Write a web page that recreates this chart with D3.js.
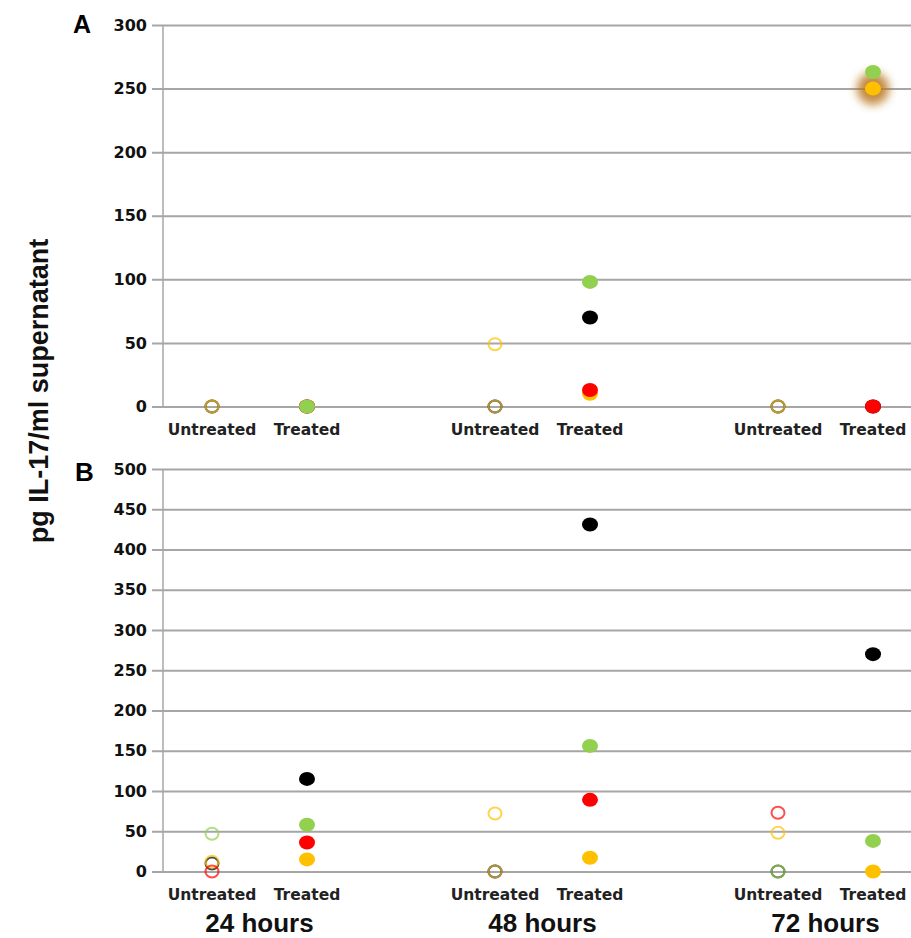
<!DOCTYPE html>
<html>
<head>
<meta charset="utf-8">
<script src="https://cdn.jsdelivr.net/npm/d3@7"></script>
<style>
  body { margin: 0; background: #fff; }
  svg { display: block; }
</style>
</head>
<body>
<div id="chart-area"></div>
<script>
//============================DATA============================
// x categories
var timeGroups = ["24 hours", "48 hours", "72 hours"];
var treatments = ["Untreated", "Treated"];

// one value per group x treatment: 24U, 24T, 48U, 48T, 72U, 72T
var subjects = ["black", "yellow", "red", "green"];   // draw order
var subjectColors = { black: "#000000", yellow: "#ffc000", red: "#ff0000", green: "#92d050" };

// panel A
var aBlack  = [0, 0, 0, 70, 0, 0];
var aYellow = [0, 0, 49, 10, 0, 250];
var aRed    = [0, 0, 0, 13, 0, 0];
var aGreen  = [0, 0, 0, 98, 0, 263];
var aTicks  = [0, 50, 100, 150, 200, 250, 300];

// panel B (null = not shown)
var bBlack  = [10, 115, 0, 431, 0, 270];
var bYellow = [12, 15, 72, 17, 48, 0];
var bRed    = [0, 36, 0, 89, 73, null];
var bGreen  = [47, 58, 0, 156, 0, 38];
var bTicks  = [0, 50, 100, 150, 200, 250, 300, 350, 400, 450, 500];

// highlighted point (glow) in panel A
var glowPoint = { panel: "A", subject: "yellow", index: 5 };

//============================LAYOUT============================
var width = 911, height = 938;
var plotLeft = 163, plotRight = 911;

var svg = d3.select("#chart-area")
    .append("svg")
    .attr("width", width)
    .attr("height", height);

var defs = svg.append("defs");
defs.append("filter")
    .attr("id", "glow")
    .attr("x", "-100%").attr("y", "-100%")
    .attr("width", "300%").attr("height", "300%")
    .append("feGaussianBlur")
    .attr("stdDeviation", 5);

// x scales: groups, then untreated/treated offset inside group
var xGroup = d3.scalePoint().domain(timeGroups).range([259.5, 825.5]);
var xTreat = d3.scalePoint().domain(treatments).range([-47.5, 47.5]);

function xPos(i) {
    return xGroup(timeGroups[Math.floor(i / 2)]) + xTreat(treatments[i % 2]);
}

var panels = [
    { key: "A", series: { black: aBlack, yellow: aYellow, red: aRed, green: aGreen },
      ticks: aTicks, top: 25, bottom: 406.5, catY: 435, letterX: 73, letterY: 33, letterSize: 25 },
    { key: "B", series: { black: bBlack, yellow: bYellow, red: bRed, green: bGreen },
      ticks: bTicks, top: 469, bottom: 871.5, catY: 900, letterX: 75, letterY: 481, letterSize: 26 }
];

panels.forEach(function(p) {
    var y = d3.scaleLinear()
        .domain([0, d3.max(p.ticks)])
        .range([p.bottom, p.top]);

    // gridlines + tick marks + labels
    var axis = svg.append("g")
        .attr("transform", "translate(152,0)")
        .call(d3.axisLeft(y)
            .tickValues(p.ticks)
            .tickSize(-(plotRight - 152))
            .tickPadding(5));
    axis.select(".domain").remove();
    axis.selectAll(".tick line")
        .attr("stroke", "#a6a6a6")
        .attr("stroke-width", 2);
    axis.selectAll(".tick text")
        .attr("font-family", "'DejaVu Sans', sans-serif")
        .attr("font-weight", "bold")
        .attr("font-size", "16px")
        .attr("fill", "#111");

    // vertical axis line
    svg.append("line")
        .attr("x1", plotLeft).attr("x2", plotLeft)
        .attr("y1", p.top).attr("y2", p.bottom)
        .attr("stroke", "#a6a6a6")
        .attr("stroke-width", 1.5);

    // panel letter
    svg.append("text")
        .attr("x", p.letterX)
        .attr("y", p.letterY)
        .attr("font-family", "'Liberation Sans', Arial, sans-serif")
        .attr("font-weight", "bold")
        .attr("font-size", p.letterSize + "px")
        .text(p.key);

    // category labels
    d3.range(6).forEach(function(i) {
        svg.append("text")
            .attr("x", xPos(i))
            .attr("y", p.catY)
            .attr("text-anchor", "middle")
            .attr("font-family", "'DejaVu Sans', sans-serif")
            .attr("font-weight", "bold")
            .attr("font-size", "15.5px")
            .attr("fill", "#222")
            .text(treatments[i % 2]);
    });

    // glow behind highlighted point
    if (glowPoint.panel === p.key) {
        var gv = p.series[glowPoint.subject][glowPoint.index];
        svg.append("circle")
            .attr("cx", xPos(glowPoint.index))
            .attr("cy", y(gv))
            .attr("r", 16)
            .attr("fill", "#b8741f")
            .attr("opacity", 0.85)
            .attr("filter", "url(#glow)");
    }

    // untreated points: open circles
    subjects.forEach(function(s) {
        var pts = p.series[s]
            .map(function(v, i) { return { v: v, i: i }; })
            .filter(function(d) { return d.v !== null && d.i % 2 === 0; });
        svg.selectAll(null)
            .data(pts)
            .enter().append("ellipse")
            .attr("cx", function(d) { return xPos(d.i); })
            .attr("cy", function(d) { return y(d.v); })
            .attr("rx", 6.5)
            .attr("ry", 6)
            .attr("fill", "none")
            .attr("stroke", subjectColors[s])
            .attr("stroke-opacity", 0.7)
            .attr("stroke-width", 2);
    });

    // treated points: filled
    subjects.forEach(function(s) {
        var pts = p.series[s]
            .map(function(v, i) { return { v: v, i: i }; })
            .filter(function(d) { return d.v !== null && d.i % 2 === 1; });
        svg.selectAll(null)
            .data(pts)
            .enter().append("ellipse")
            .attr("cx", function(d) { return xPos(d.i); })
            .attr("cy", function(d) { return y(d.v); })
            .attr("rx", 8)
            .attr("ry", 7)
            .attr("fill", subjectColors[s]);
    });
});

// time group labels
svg.selectAll(".group-label")
    .data(timeGroups)
    .enter().append("text")
    .attr("class", "group-label")
    .attr("x", function(d) { return xGroup(d); })
    .attr("y", 932)
    .attr("text-anchor", "middle")
    .attr("font-family", "'Liberation Sans', Arial, sans-serif")
    .attr("font-weight", "bold")
    .attr("font-size", "26px")
    .attr("fill", "#111")
    .text(function(d) { return d; });

// y axis title
svg.append("text")
    .attr("transform", "translate(48,391) rotate(-90)")
    .attr("text-anchor", "middle")
    .attr("font-family", "'Liberation Sans', Arial, sans-serif")
    .attr("font-weight", "bold")
    .attr("font-size", "27px")
    .attr("fill", "#111")
    .text("pg IL-17/ml supernatant");
</script>
</body>
</html>
